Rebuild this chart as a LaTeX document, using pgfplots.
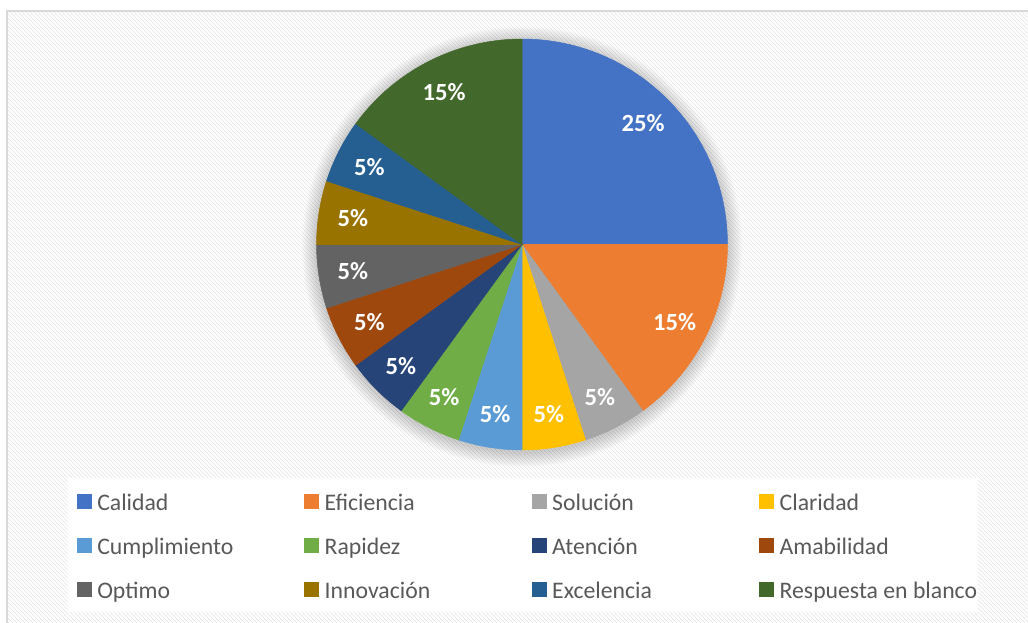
\documentclass[border=0pt]{standalone}
\usepackage{pgfplots}
\pgfplotsset{compat=1.18}
\usepackage{pgfplotstable}
\usepackage{fontspec}
\setmainfont{Carlito}
\usetikzlibrary{patterns}
\definecolor{c1}{RGB}{68,114,196}
\definecolor{c2}{RGB}{237,125,49}
\definecolor{c3}{RGB}{165,165,165}
\definecolor{c4}{RGB}{255,192,0}
\definecolor{c5}{RGB}{91,155,213}
\definecolor{c6}{RGB}{112,173,71}
\definecolor{c7}{RGB}{38,68,120}
\definecolor{c8}{RGB}{158,72,14}
\definecolor{c9}{RGB}{99,99,99}
\definecolor{c10}{RGB}{153,115,0}
\definecolor{c11}{RGB}{37,94,145}
\definecolor{c12}{RGB}{67,104,43}
\definecolor{legtext}{RGB}{89,89,89}
\definecolor{framecol}{RGB}{217,217,217}

% cx cy: pie centre; start/stop: slice angles (clockwise from top); pct: value
\pgfplotstableread{
cx cy start stop pct idx
522 377.5 90 0 25 1
522 377.5 0 -54 15 2
522 377.5 -54 -72 5 3
522 377.5 -72 -90 5 4
522 377.5 -90 -108 5 5
522 377.5 -108 -126 5 6
522 377.5 -126 -144 5 7
522 377.5 -144 -162 5 8
522 377.5 -162 -180 5 9
522 377.5 -180 -198 5 10
522 377.5 -198 -216 5 11
522 377.5 -216 -270 15 12
}\piedata

\begin{document}
\begin{tikzpicture}
\clip (0,0) rectangle (771pt,466.5pt);
\fill[white] (0,0) rectangle (771pt,466.5pt);
\fill[pattern=north west lines, pattern color=black!10] (5.6pt,-5pt) rectangle (780pt,458.6pt);
\draw[framecol, line width=1.5pt] (5.6pt,-5pt) rectangle (780pt,458.6pt);
\foreach \i in {1,...,16} \fill[black,opacity=0.012] (391.5pt,281.5pt) circle ({154.1pt+\i*0.7pt});
\fill[white] (51pt,7.5pt) rectangle (733.5pt,108pt);
\begin{axis}[at={(0,0)}, anchor=south west, x=0.75pt, y=0.75pt,
  xmin=0, xmax=1028, ymin=0, ymax=622, hide axis, clip=false,
  legend columns=4, legend cell align=left,
  legend style={at={(axis cs:77,128)}, anchor=north west, draw=none, fill=none,
    inner sep=0pt, outer sep=0pt, font=\fontsize{17.8}{20}\selectfont, text=legtext,
    row sep=17.6pt, nodes={inner sep=0pt, text height=12pt, text depth=3pt},
    /tikz/every odd column/.style={column sep=4.5pt}},
  legend image code/.code={\fill[#1] (0pt,-2.5pt) rectangle (10.3pt,7.8pt);}
]
\addplot[scatter, only marks, mark=text, text mark={}, forget plot,
  visualization depends on={\thisrow{start}\as\sa},
  visualization depends on={\thisrow{stop}\as\se},
  visualization depends on={\thisrow{pct}\as\pct},
  visualization depends on={\thisrow{idx}\as\sidx},
  scatter/@pre marker code/.code={%
    \pgfmathtruncatemacro\ci{\sidx}%
    \pgfmathtruncatemacro\pc{\pct}%
    \fill[c\ci] (0,0) -- (\sa:154.1pt) arc[start angle=\sa, end angle=\se, radius=154.1pt] -- cycle;
    \pgfmathsetmacro\midang{(\sa+\se)/2}%
    \node[text=white, font=\bfseries\fontsize{18.5}{20}\selectfont] at (\midang:128.5pt) {\pc\%};
  },
  scatter/@post marker code/.code={}
] table[x=cx, y=cy] {\piedata};
\addlegendimage{c1}\addlegendentry{\makebox[155.4pt][l]{Calidad}}
\addlegendimage{c2}\addlegendentry{\makebox[155.4pt][l]{Eficiencia}}
\addlegendimage{c3}\addlegendentry{\makebox[155.4pt][l]{Solución}}
\addlegendimage{c4}\addlegendentry{\makebox[155.4pt][l]{Claridad}}
\addlegendimage{c5}\addlegendentry{\makebox[155.4pt][l]{Cumplimiento}}
\addlegendimage{c6}\addlegendentry{\makebox[155.4pt][l]{Rapidez}}
\addlegendimage{c7}\addlegendentry{\makebox[155.4pt][l]{Atención}}
\addlegendimage{c8}\addlegendentry{\makebox[155.4pt][l]{Amabilidad}}
\addlegendimage{c9}\addlegendentry{\makebox[155.4pt][l]{Optimo}}
\addlegendimage{c10}\addlegendentry{\makebox[155.4pt][l]{Innovación}}
\addlegendimage{c11}\addlegendentry{\makebox[155.4pt][l]{Excelencia}}
\addlegendimage{c12}\addlegendentry{\makebox[155.4pt][l]{Respuesta en blanco}}
\end{axis}
\end{tikzpicture}
\end{document}
